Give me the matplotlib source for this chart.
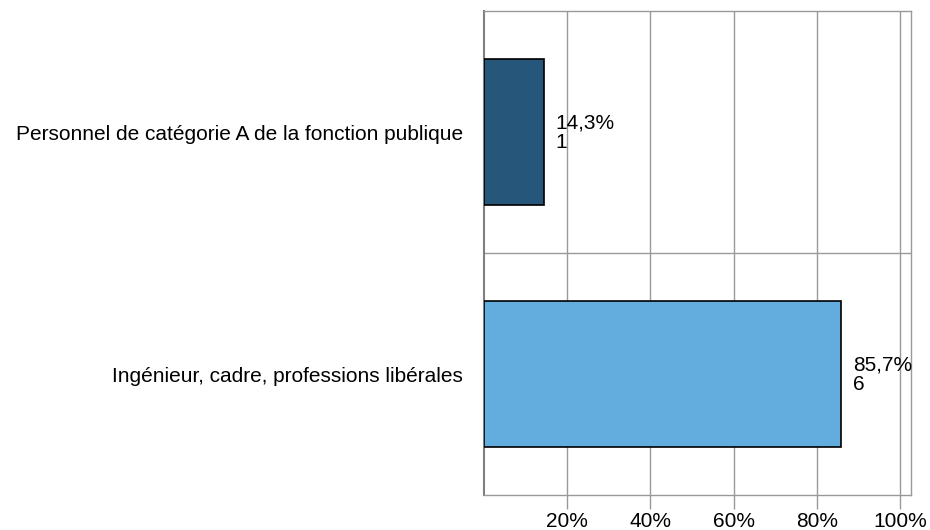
import matplotlib
matplotlib.use("Agg")
import matplotlib.pyplot as plt
from matplotlib.ticker import FixedLocator

categories = ["Personnel de catégorie A de la fonction publique",
              "Ingénieur, cadre, professions libérales"]
percents = [14.3, 85.7]
counts = [1, 6]
colors = ["#26567A", "#63ADDE"]
xticks = [20, 40, 60, 80, 100]
xticklabels = ["20%", "40%", "60%", "80%", "100%"]

plt.rcParams['font.family'] = ['Liberation Sans', 'DejaVu Sans']

fig = plt.figure(figsize=(9.3, 5.3), dpi=100)
ax = fig.add_axes([484/930, 1-495/530, (911-484)/930, (495-11)/530])

ypos = list(range(len(categories)))
ax.barh(ypos, percents, height=0.6, color=colors, edgecolor="black", linewidth=1.2, zorder=3)

for y, p, c in zip(ypos, percents, counts):
    ax.annotate(f"{p:.1f}".replace(".", ",") + f"%\n{c}", xy=(p, y), xytext=(12, -1),
                textcoords="offset pixels",
                va="center", ha="left", fontsize=15, linespacing=1.05, zorder=4)

ax.set_xlim(0, 102.6)
ax.set_ylim(len(categories) - 0.5, -0.5)
ax.set_yticks(ypos)
ax.set_yticklabels(categories, fontsize=15)
ax.yaxis.set_minor_locator(FixedLocator([0.5]))
ax.tick_params(axis="y", which="both", length=0, pad=15)
ax.set_xticks(xticks)
ax.set_xticklabels(xticklabels, fontsize=15)
ax.tick_params(axis="x", length=10, color="#999999", width=1, pad=2)

ax.grid(axis="x", color="#999999", linewidth=1, zorder=0)
ax.grid(axis="y", which="minor", color="#999999", linewidth=1, zorder=0)
for s in ["top", "right", "bottom"]:
    ax.spines[s].set_color("#999999")
    ax.spines[s].set_linewidth(1)
ax.spines["left"].set_color("#808080")
ax.spines["left"].set_linewidth(1.5)

fig.savefig("out.png", dpi=100)
